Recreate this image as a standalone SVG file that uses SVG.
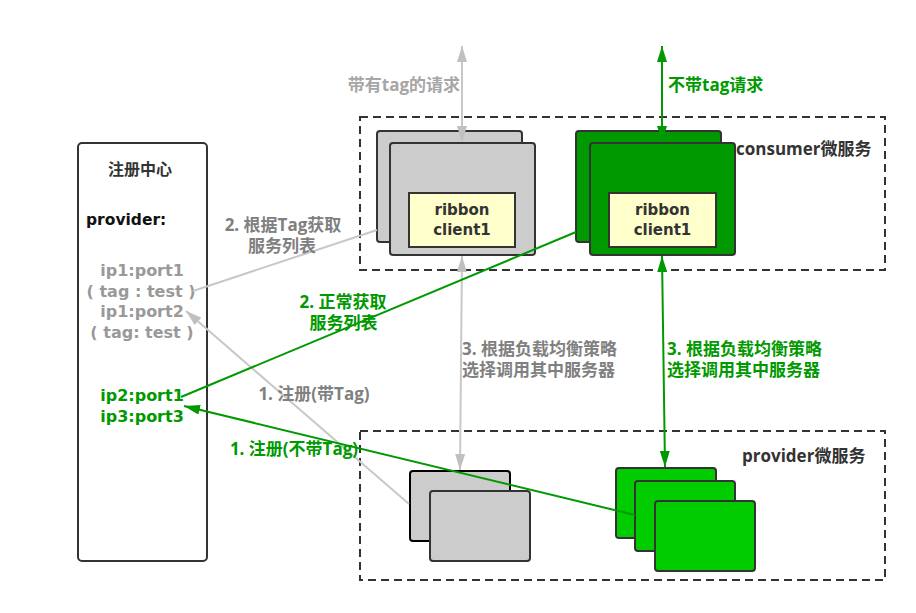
<svg xmlns="http://www.w3.org/2000/svg" width="916" height="613" viewBox="0 0 916 613">
<style>
text{font-family:"Open Sans","Noto Sans CJK SC",sans-serif;font-weight:bold;dominant-baseline:central}
tspan{dominant-baseline:central}
.lat{font-family:"DejaVu Sans","Noto Sans CJK SC",sans-serif}
.lbl{font-size:17px}
.reg{font-size:16px;text-anchor:middle}
.mid{text-anchor:middle}
.gray{fill:#808080}
.lgray{fill:#a6a6a6}
.rgray{fill:#999999}
.green{fill:#009900}
.dark{fill:#333333}
.dash{fill:none;stroke:#333;stroke-width:2;stroke-dasharray:8 5}
.card{stroke:#333;stroke-width:2}
.gcard{fill:#cccccc}
.dgcard{fill:#009900}
.lgcard{fill:#00cc00}
.yel{fill:#ffffcc;stroke:#333;stroke-width:2}
.ln-g{stroke:#c8c8c8;stroke-width:2;fill:none}
.ln-gr{stroke:#009900;stroke-width:2;fill:none}
</style>
<defs>
<marker id="ahG" viewBox="0 0 16 10" refX="16" refY="5" markerWidth="16" markerHeight="10" markerUnits="userSpaceOnUse" orient="auto-start-reverse">
<path d="M0,0 L16,5 L0,10 z" fill="#c0c0c0"/>
</marker>
<marker id="ahGr" viewBox="0 0 16 10" refX="16" refY="5" markerWidth="16" markerHeight="10" markerUnits="userSpaceOnUse" orient="auto-start-reverse">
<path d="M0,0 L16,5 L0,10 z" fill="#009900"/>
</marker>
</defs>
<rect width="916" height="613" fill="#ffffff"/>

<g id="registry">
<rect x="78" y="143" width="129" height="418" rx="4" fill="#fff" stroke="#333" stroke-width="2"/>
<text x="140" y="169" class="mid dark" style="font-size:16px">注册中心</text>
<text x="86" y="220" class="lat" style="font-size:15.5px" fill="#111">provider:</text>
<text class="lat reg rgray"><tspan x="142" y="270">ip1:port1</tspan><tspan x="141" y="290.5">( tag : test )</tspan><tspan x="142" y="311">ip1:port2</tspan><tspan x="142" y="332">( tag: test )</tspan></text>
<text class="lat reg green"><tspan x="142" y="395">ip2:port1</tspan><tspan x="142" y="416">ip3:port3</tspan></text>
</g>

<g id="consumer">
<rect x="360" y="117" width="525" height="153" class="dash"/>
<text x="736" y="148" class="dark" style="font-size:17px">consumer微服务</text>
</g>

<g id="consumer-tag">
<rect x="377" y="131" width="145" height="111" rx="3" class="card gcard"/>
<rect x="390" y="143" width="145" height="112" rx="3" class="card gcard"/>
<rect x="409" y="193" width="106" height="54" class="yel"/>
<text class="lat mid dark" style="font-size:15px"><tspan x="462" y="210">ribbon</tspan><tspan x="462" y="230">client1</tspan></text>
</g>

<g id="consumer-notag">
<rect x="576" y="131" width="145" height="111" rx="3" class="card dgcard"/>
<rect x="590" y="143" width="145" height="112" rx="3" class="card dgcard"/>
<rect x="609" y="193" width="107" height="54" class="yel"/>
<text class="lat mid dark" style="font-size:15px"><tspan x="662.5" y="210">ribbon</tspan><tspan x="662.5" y="230">client1</tspan></text>
</g>

<g id="provider">
<rect x="360" y="431" width="525" height="149" class="dash"/>
<text x="742" y="455" class="dark" style="font-size:17px">provider微服务</text>
</g>

<g id="provider-tag">
<rect x="410" y="471" width="100" height="70" rx="3" fill="#cccccc" stroke="#000" stroke-width="2"/>
<rect x="430" y="491" width="100" height="70" rx="3" class="card gcard"/>
</g>

<g id="provider-notag">
<rect x="616" y="468" width="100" height="70" rx="3" class="card lgcard"/>
<rect x="635" y="481" width="100" height="70" rx="3" class="card lgcard"/>
<rect x="655" y="501" width="100" height="70" rx="3" class="card lgcard"/>
</g>

<g id="connectors">
<line x1="462" y1="46" x2="462" y2="142" class="ln-g" stroke="#c0c0c0" marker-start="url(#ahG)" marker-end="url(#ahG)"/>
<line x1="662" y1="46" x2="662" y2="142" class="ln-gr" marker-start="url(#ahGr)" marker-end="url(#ahGr)"/>
<line x1="462" y1="256" x2="460" y2="470" class="ln-g" marker-start="url(#ahG)" marker-end="url(#ahG)"/>
<line x1="662" y1="256" x2="665" y2="467" class="ln-gr" marker-start="url(#ahGr)" marker-end="url(#ahGr)"/>
<line x1="377" y1="230" x2="193" y2="291" class="ln-g"/>
<line x1="409" y1="504" x2="186" y2="311" class="ln-g" marker-end="url(#ahG)"/>
<line x1="576" y1="232" x2="181" y2="397" class="ln-gr"/>
<line x1="635" y1="515" x2="184" y2="406" class="ln-gr" marker-end="url(#ahGr)"/>
</g>

<g id="labels">
<text x="404" y="84" class="lbl mid lgray">带有tag的请求</text>
<text x="668" y="84" class="lbl green">不带tag请求</text>
<text class="lbl mid gray"><tspan x="283" y="223.5">2. 根据Tag获取</tspan><tspan x="282" y="244.5">服务列表</tspan></text>
<text class="lbl mid green"><tspan x="343" y="300.5">2. 正常获取</tspan><tspan x="343.5" y="321.5">服务列表</tspan></text>
<text x="314" y="393" class="lbl mid gray">1. 注册(带Tag)</text>
<text x="294" y="448" class="lbl mid green">1. 注册(不带Tag)</text>
<text class="lbl gray"><tspan x="462" y="348">3. 根据负载均衡策略</tspan><tspan x="462" y="369">选择调用其中服务器</tspan></text>
<text class="lbl green"><tspan x="667" y="348">3. 根据负载均衡策略</tspan><tspan x="667" y="369">选择调用其中服务器</tspan></text>
</g>
</svg>
